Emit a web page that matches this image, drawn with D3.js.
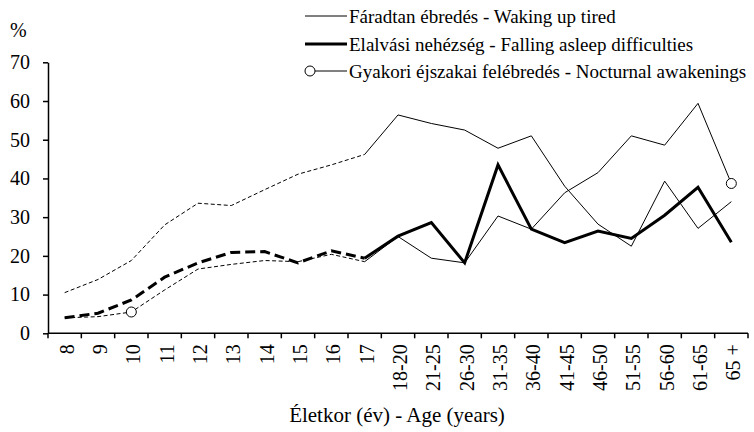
<!DOCTYPE html>
<html>
<head>
<meta charset="utf-8">
<script src="https://cdn.jsdelivr.net/npm/d3@7"></script>
<style>
  html, body { margin: 0; padding: 0; background: #fff; }
  svg { display: block; }
</style>
</head>
<body>
<svg id="chart" width="754" height="432"></svg>
<script>
const categories = ["8","9","10","11","12","13","14","15","16","17","18-20","21-25","26-30","31-35","36-40","41-45","46-50","51-55","56-60","61-65","65 +"];
const tiredValues = [10.5, 13.9, 18.8, 28.0, 33.6, 33.0, 37.1, 41.1, 43.5, 46.2, 56.4, 54.2, 52.5, 47.8, 51.0, 38.0, 28.2, 22.5, 39.3, 27.1, 34.0];
const fallingValues = [4.0, 5.2, 8.6, 14.5, 18.2, 20.9, 21.1, 18.2, 21.3, 19.4, 25.1, 28.6, 18.2, 43.5, 26.9, 23.4, 26.4, 24.5, 30.5, 37.7, 23.5];
const nocturnalValues = [4.0, 4.3, 5.5, 11.2, 16.6, 17.8, 18.8, 18.5, 20.4, 18.5, 25.0, 19.4, 18.2, 30.3, 26.9, 36.3, 41.5, 51.0, 48.6, 59.4, 38.7];
const yTicks = [0, 10, 20, 30, 40, 50, 60, 70];
const legendLabels = [
  "Fáradtan ébredés - Waking up tired",
  "Elalvási nehézség - Falling asleep difficulties",
  "Gyakori éjszakai felébredés - Nocturnal awakenings"
];
const xTitle = "Életkor (év) - Age (years)";
const yUnit = "%";
const dashedCount = 10;          // first 10 points (8..17) drawn dashed
const markerIndices = [2, 20];   // circles on the nocturnal series

const FONT = "Liberation Serif";
const svg = d3.select("#chart").attr("font-family", FONT);
const mLeft = 48, mRight = 748, mTop = 62.3, mBottom = 333.3;

const x = d3.scaleBand().domain(categories).range([mLeft, mRight]).padding(0);
const y = d3.scaleLinear().domain([0, 70]).range([mBottom, mTop]);
const cx = c => x(c) + x.bandwidth() / 2;

// Y axis
const yAxis = d3.axisLeft(y).tickValues(yTicks).tickSize(5).tickSizeOuter(0).tickPadding(13);
const gy = svg.append("g").attr("transform", `translate(${mLeft},0)`).call(yAxis)
  .attr("font-family", FONT).attr("font-size", 20);
gy.select(".domain").attr("stroke", "#000").attr("stroke-width", 1.5);
gy.selectAll(".tick line").attr("stroke", "#000").attr("stroke-width", 1.5);
gy.selectAll(".tick text").attr("font-size", 20).attr("fill", "#000").attr("font-family", FONT);

svg.append("text").attr("x", 10).attr("y", 37).attr("font-size", 20)
  .attr("font-family", FONT).text(yUnit);

// X axis line and boundary ticks
svg.append("line").attr("x1", mLeft).attr("x2", mRight).attr("y1", mBottom).attr("y2", mBottom)
  .attr("stroke", "#000").attr("stroke-width", 1.5);
const boundaries = categories.map(c => x(c)).concat([mRight]);
svg.append("g").selectAll("line").data(boundaries).join("line")
  .attr("x1", d => d).attr("x2", d => d).attr("y1", mBottom).attr("y2", mBottom + 5)
  .attr("stroke", "#000").attr("stroke-width", 1.5);

// X labels (rotated)
svg.append("g").selectAll("text").data(categories).join("text")
  .attr("transform", d => `translate(${cx(d)},${mBottom + 11}) rotate(-90)`)
  .attr("text-anchor", "end").attr("dy", "0.45em")
  .attr("font-family", FONT).attr("font-size", 20).text(d => d);

svg.append("text").attr("x", (mLeft + mRight) / 2 - 1).attr("y", 422)
  .attr("text-anchor", "middle").attr("font-family", FONT).attr("font-size", 21).text(xTitle);

// Lines
const line = d3.line().x(d => cx(d.c)).y(d => y(d.v));
function drawSeries(values, width, dash) {
  const pts = values.map((v, i) => ({ c: categories[i], v }));
  svg.append("path").datum(pts.slice(0, dashedCount))
    .attr("d", line).attr("fill", "none").attr("stroke", "#000")
    .attr("stroke-width", width).attr("stroke-dasharray", dash);
  svg.append("path").datum(pts.slice(dashedCount - 1))
    .attr("d", line).attr("fill", "none").attr("stroke", "#000")
    .attr("stroke-width", width).attr("stroke-linejoin", "miter");
}
drawSeries(tiredValues, 1, "4,2.5");
drawSeries(nocturnalValues, 1, "4,2.5");
drawSeries(fallingValues, 3, "10,5");

svg.append("g").selectAll("circle").data(markerIndices).join("circle")
  .attr("cx", i => cx(categories[i])).attr("cy", i => y(nocturnalValues[i]))
  .attr("r", 5).attr("fill", "#fff").attr("stroke", "#000").attr("stroke-width", 1);

// Legend
const legendY = [16, 44, 71];
const lg = svg.append("g");
lg.append("line").attr("x1", 305).attr("x2", 347).attr("y1", legendY[0]).attr("y2", legendY[0])
  .attr("stroke", "#000").attr("stroke-width", 1);
lg.append("line").attr("x1", 305).attr("x2", 347).attr("y1", legendY[1]).attr("y2", legendY[1])
  .attr("stroke", "#000").attr("stroke-width", 3);
lg.append("line").attr("x1", 315).attr("x2", 347).attr("y1", legendY[2]).attr("y2", legendY[2])
  .attr("stroke", "#000").attr("stroke-width", 1);
lg.append("circle").attr("cx", 310).attr("cy", legendY[2]).attr("r", 5)
  .attr("fill", "#fff").attr("stroke", "#000").attr("stroke-width", 1);
lg.selectAll("text").data(legendLabels).join("text")
  .attr("x", 349).attr("y", (d, i) => legendY[i]).attr("dy", "0.35em")
  .attr("font-family", FONT).attr("font-size", 19).text(d => d);
</script>
</body>
</html>
